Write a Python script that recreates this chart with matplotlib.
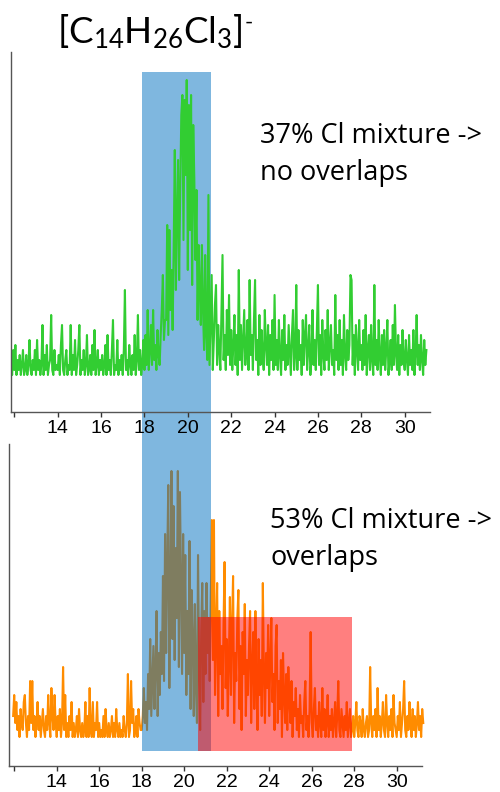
import numpy as np
import matplotlib
matplotlib.use("Agg")
import matplotlib.pyplot as plt
from matplotlib.patches import Rectangle

# ---------------- data ----------------
# retention-time sampling (minutes)
top_start, bottom_start, step = 11.85, 11.95, 0.05

# top trace: 37% Cl mixture (intensity, arbitrary units)
top_values = [
    3, 1, 6,
    2, 7, 1, 4, 2, 5, 1, 3, 6, 1, 2, 5, 1, 3, 8, 2, 1, 4, 2, 6,
    1, 8, 2, 4, 1, 3, 11, 1, 5, 2, 7, 1, 3, 4, 13, 2, 1, 6, 2, 3,
    2, 5, 1, 7, 11, 2, 1, 4, 6, 1, 3, 2, 11, 1, 5, 2, 8, 1, 3, 6,
    11, 1, 4, 2, 6, 1, 3, 9, 1, 2, 5, 1, 7, 2, 10, 1, 3, 6, 1, 4,
    2, 5, 1, 3, 7, 1, 9, 2, 4, 1, 6, 12, 1, 3, 2, 8, 1, 4, 2, 5,
    1, 6, 18, 2, 4, 1, 7, 3, 1, 5, 2, 9, 1, 4, 13, 2, 6, 1, 3, 8,
    2, 9, 3, 14, 2, 6, 11, 3, 14, 4, 7, 2, 10, 5, 3, 9, 14, 21, 8, 12,
    12, 31, 9, 30, 14, 22, 10, 27, 46, 18, 33, 44, 20, 38, 53, 57, 28, 56, 41, 60,
    22, 55, 30, 57, 19, 51, 40, 24, 38, 12, 27, 18, 11, 27, 14, 6, 25, 9, 4, 37,
    3, 12, 21, 2, 8, 15, 19, 3, 11, 6, 2, 13, 25, 4, 9, 2, 14, 5, 17, 3,
    10, 2, 7, 13, 3, 9, 1, 22, 4, 11, 2, 8, 14, 3, 6, 12, 2, 20, 5, 9,
    2, 12, 20, 4, 8, 1, 13, 3, 10, 5, 2, 14, 7, 3, 11, 1, 9, 4, 12, 2,
    17, 3, 8, 2, 12, 5, 1, 10, 4, 13, 2, 7, 3, 11, 6, 1, 9, 14, 2, 5,
    19, 2, 10, 4, 7, 1, 12, 3, 9, 13, 2, 6, 11, 1, 4, 14, 3, 8, 2, 10,
    19, 3, 9, 1, 12, 5, 2, 10, 4, 14, 2, 7, 11, 3, 6, 1, 17, 4, 9, 2,
    12, 3, 8, 1, 13, 5, 2, 10, 4, 7, 21, 20, 3, 9, 1, 11, 6, 2, 12, 4,
    7, 2, 10, 3, 13, 1, 6, 9, 2, 11, 4, 1, 19, 3, 8, 2, 12, 5, 1, 9,
    3, 10, 2, 6, 12, 1, 4, 8, 2, 11, 3, 15, 5, 2, 9, 1, 7, 3, 10, 4,
    2, 8, 4, 1, 9, 3, 6, 2, 10, 1, 5, 13, 3, 7, 2, 9, 4, 1, 8, 3,
    6,
]

# bottom trace: 53% Cl mixture (intensity, arbitrary units)
bottom_values = [
    3,
    6, 2, 5, 1, 3, 0, 4, 2, 1, 5, 6, 2, 0, 3, 1, 8, 2, 8, 1, 3,
    0, 2, 5, 1, 3, 0, 2, 4, 1, 0, 3, 1, 6, 2, 0, 7, 3, 1, 6, 2,
    0, 3, 1, 4, 0, 2, 10, 1, 6, 0, 2, 0, 3, 1, 5, 0, 2, 0, 1, 3,
    0, 4, 1, 0, 2, 0, 1, 5, 0, 3, 0, 7, 1, 0, 5, 0, 2, 1, 5, 0,
    2, 0, 1, 0, 3, 0, 4, 1, 0, 2, 0, 1, 3, 0, 2, 0, 4, 1, 0, 2,
    0, 1, 0, 3, 1, 0, 2, 9, 0, 1, 8, 2, 4, 0, 1, 3, 0, 4, 2, 1,
    1, 3, 7, 2, 5, 1, 9, 4, 14, 3, 8, 13, 4, 10, 18, 3, 12, 6, 15, 9,
    23, 8, 29, 12, 25, 36, 7, 20, 38, 14, 33, 11, 27, 17, 38, 10, 35, 22, 9, 29,
    12, 26, 6, 18, 9, 28, 4, 21, 14, 3, 19, 7, 2, 26, 10, 1, 15, 22, 5, 18,
    9, 22, 12, 17, 8, 20, 31, 11, 31, 6, 15, 22, 3, 18, 9, 13, 4, 16, 25, 7,
    14, 3, 11, 20, 6, 16, 23, 2, 12, 8, 17, 21, 4, 13, 1, 15, 9, 19, 3, 11,
    6, 13, 18, 2, 10, 15, 4, 18, 8, 1, 14, 6, 11, 3, 22, 9, 2, 12, 7, 16,
    3, 11, 17, 5, 9, 1, 13, 16, 2, 8, 4, 11, 0, 12, 6, 2, 9, 1, 10, 5,
    2, 8, 0, 5, 3, 7, 1, 4, 0, 6, 2, 3, 0, 5, 8, 1, 3, 0, 4, 15,
    2, 0, 4, 7, 1, 3, 0, 5, 2, 0, 7, 1, 4, 0, 2, 6, 0, 3, 1, 4,
    0, 2, 5, 0, 3, 8, 1, 0, 4, 2, 0, 3, 1, 5, 0, 2, 4, 0, 1, 3,
    0, 2, 5, 1, 0, 3, 2, 0, 4, 1, 0, 2, 3, 0, 1, 10, 2, 0, 3, 1,
    4, 0, 7, 1, 3, 0, 2, 5, 1, 0, 6, 2, 0, 3, 1, 4, 0, 6, 2, 1,
    0, 3, 1, 5, 0, 2, 4, 8, 1, 0, 3, 1, 5, 2, 0, 4, 1, 3, 0, 2,
    5, 1, 3, 0, 4, 2,
]

tick_values = [12, 14, 16, 18, 20, 22, 24, 26, 28, 30]
tick_labels = ["", "14", "16", "18", "20", "22", "24", "26", "28", "30"]

# highlighted retention windows (minutes)
top_blue_window = (17.88, 21.06)
bottom_blue_window = (18.01, 21.26)
bottom_red_window = (20.65, 27.9)

title = r"[C$_{14}$H$_{26}$Cl$_{3}$]"
title_charge = "-"
top_note = "37% Cl mixture ->\nno overlaps"
bottom_note = "53% Cl mixture ->\noverlaps"

# ---------------- figure ----------------
plt.rcParams["mathtext.default"] = "regular"
W, H = 500, 792
fig = plt.figure(figsize=(W / 100, H / 100), dpi=100)

def px_axes(l, t, r, b):
    return [l / W, 1 - b / H, (r - l) / W, (b - t) / H]

ax1 = fig.add_axes(px_axes(11, 52, 430, 412))
ax2 = fig.add_axes(px_axes(9, 444, 422, 766))

x_top = top_start + step * np.arange(len(top_values))
x_bot = bottom_start + step * np.arange(len(bottom_values))

green = "#32CD32"
orange = "#FF8C00"
blue = "#0070C0"

ax1.plot(x_top, top_values, color=green, lw=1.5, zorder=2)
ax2.plot(x_bot, bottom_values, color=orange, lw=1.5, zorder=2, clip_on=False)

ax1.set_xlim(11.848, 31.166)
ax1.set_ylim(-6.4, 65.6)
ax2.set_xlim(11.755, 31.19)
ax2.set_ylim(-4.14, 41.86)

# blue window: top part (behind green trace), continues down into lower panel
ax1.add_patch(Rectangle((top_blue_window[0], -12.8),
                        top_blue_window[1] - top_blue_window[0], 61.6 + 12.8,
                        facecolor=blue, alpha=0.5, lw=0, zorder=1, clip_on=False))
ax2.add_patch(Rectangle((bottom_blue_window[0], -2.0),
                        bottom_blue_window[1] - bottom_blue_window[0], 41.86 + 2.0,
                        facecolor=blue, alpha=0.5, lw=0, zorder=3, clip_on=False))
ax2.add_patch(Rectangle((bottom_red_window[0], -2.0),
                        bottom_red_window[1] - bottom_red_window[0], 17.14 + 2.0,
                        facecolor="red", alpha=0.5, lw=0, zorder=4, clip_on=False))

for ax in (ax1, ax2):
    ax.set_facecolor("none")
    for s in ("top", "right"):
        ax.spines[s].set_visible(False)
    for s in ("left", "bottom"):
        ax.spines[s].set_color("#555555")
        ax.spines[s].set_linewidth(1.0)
    ax.set_yticks([])
    ax.set_xticks(tick_values)
    ax.set_xticklabels(tick_labels, fontfamily="Liberation Sans", fontsize=14)
    ax.tick_params(axis="x", direction="out", length=3.5, width=1.0,
                   color="#333333", pad=2.5)

t = fig.text(57 / W, 1 - 43 / H, title, fontfamily="Lato", fontsize=26.5,
             ha="left", va="baseline")
fig.canvas.draw()
bb = t.get_window_extent()
fig.text((bb.x1 + 2) / W, 1 - 29 / H, title_charge, fontfamily="Lato",
         fontsize=16, ha="left", va="baseline")

# baseline given for the last line of each note
fig.text(260 / W, 1 - 180 / H, top_note, fontfamily="Open Sans", fontsize=19.5,
         ha="left", va="baseline", linespacing=1.42)
fig.text(270 / W, 1 - 565 / H, bottom_note, fontfamily="Open Sans", fontsize=19.5,
         ha="left", va="baseline", linespacing=1.42)

fig.savefig("out.png", dpi=100)
